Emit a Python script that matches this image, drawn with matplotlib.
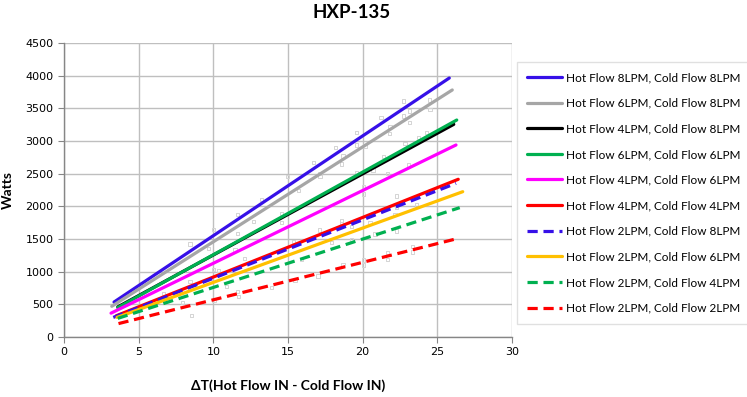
import matplotlib
matplotlib.use('Agg')
import matplotlib.pyplot as plt

# ===================== 数据 =====================
series_labels = [
    'Hot Flow 8LPM, Cold Flow 8LPM',
    'Hot Flow 6LPM, Cold Flow 8LPM',
    'Hot Flow 4LPM, Cold Flow 8LPM',
    'Hot Flow 6LPM, Cold Flow 6LPM',
    'Hot Flow 4LPM, Cold Flow 6LPM',
    'Hot Flow 4LPM, Cold Flow 4LPM',
    'Hot Flow 2LPM, Cold Flow 8LPM',
    'Hot Flow 2LPM, Cold Flow 6LPM',
    'Hot Flow 2LPM, Cold Flow 4LPM',
    'Hot Flow 2LPM, Cold Flow 2LPM',
]
# 趋势线起点/终点 (ΔT, Watts)
dt_start = [3.35, 3.2, 3.6, 3.6, 3.15, 3.5, 3.3, 3.55, 3.6, 3.65]
dt_end = [25.8, 26.0, 26.1, 26.3, 26.25, 26.4, 26.25, 26.7, 26.5, 26.4]
w_start = [535, 470, 460, 450, 365, 325, 300, 300, 285, 205]
w_end = [3964, 3781, 3255, 3321, 2939, 2414, 2352, 2224, 1980, 1510]

# 测量点（浅灰色）
sample_dt = [22.73, 21.23, 19.6, 18.17, 16.7, 14.96, 13.24, 22.73, 24.47, 24.5,
             23.13, 23.13, 21.83, 21.79, 20.16, 19.6, 18.67, 18.6, 17.15, 17.15,
             15.7, 14.58, 14.58, 21.39, 22.84, 23.73, 24.29, 20.68, 21.66, 23.06,
             22.28, 22.28, 23.62, 22.17, 22.28, 20.83, 20.5, 20.05, 20.05, 19.6,
             18.6, 18.6, 19.27, 19.27, 21.66, 21.66, 23.33, 23.33, 20.05, 20.05,
             18.67, 17.0, 15.47, 13.9, 15.9, 15.36, 17.1, 17.93,
             8.44, 10.0, 11.6, 11.6, 12.08, 9.67, 10.0, 10.34, 8.44, 6.65,
             7.95, 8.55, 10.05, 11.6, 11.67, 10.9, 12.68, 11.45]
sample_w = [3612, 3362, 3133, 2903, 2673, 2454, 2107, 3383, 3628, 3485,
            3459, 3281, 3220, 3117, 2923, 2939, 2771, 2648, 2505, 2454,
            2240, 1893, 1750, 2760, 2964, 3056, 3133, 2556, 2505, 2633,
            2158, 1980, 2020, 1878, 1623, 1577, 1750, 2189, 2301, 2515,
            1781, 1740, 1689, 1485, 1291, 1189, 1383, 1302, 1179, 1102,
            1112, 934, 862, 760, 1189, 1460, 1638, 1444,
            1423, 1648, 1878, 1587, 1204, 1357, 1036, 1015, 847, 669,
            525, 326, 556, 694, 617, 770, 1770, 1332]

x_ticks = [0, 5, 10, 15, 20, 25, 30]
y_ticks = [0, 500, 1000, 1500, 2000, 2500, 3000, 3500, 4000, 4500]
# ===============================================

colors = ['#3610e8', '#a6a6a6', '#000000', '#00b050', '#ff00ff',
          '#ff0000', '#3610e8', '#ffc000', '#00b050', '#ff0000']
styles = ['-', '-', '-', '-', '-', '-', '--', '-', '--', '--']

fig = plt.figure(figsize=(7.47, 3.97), dpi=100)
ax = fig.add_axes([64 / 747, 1 - 337 / 397, (512 - 64) / 747, (337 - 43) / 397])

ax.scatter(sample_dt, sample_w, marker='s', s=6, facecolors='none',
           edgecolors='#d4d4d4', linewidths=0.7, zorder=2)

handles = []
for i in range(len(series_labels)):
    ln, = ax.plot([dt_start[i], dt_end[i]], [w_start[i], w_end[i]],
                  color=colors[i], linestyle=styles[i], linewidth=2.3,
                  solid_capstyle='round', zorder=3, label=series_labels[i])
    if styles[i] == '--':
        ln.set_dashes((3.2, 1.8))
    handles.append(ln)

ax.set_xlim(0, 30)
ax.set_ylim(0, 4500)
ax.set_xticks(x_ticks)
ax.set_yticks(y_ticks)
ax.grid(True, color='#bfbfbf', linewidth=1.0)
ax.set_axisbelow(True)
for s in ['top', 'right']:
    ax.spines[s].set_visible(False)
for s in ['left', 'bottom']:
    ax.spines[s].set_color('#868686')
    ax.spines[s].set_linewidth(1.0)
ax.tick_params(direction='out', length=4, color='#868686', labelsize=8,
               labelcolor='#000000')
for lab in ax.get_xticklabels() + ax.get_yticklabels():
    lab.set_family('DejaVu Sans')

ax.set_xlabel('ΔT(Hot Flow IN - Cold Flow IN)', fontsize=10, fontweight='bold',
              family=['Lato', 'DejaVu Sans'], labelpad=16)
ax.set_ylabel('Watts', fontsize=10, fontweight='bold',
              family=['Lato', 'DejaVu Sans'], labelpad=8)

fig.text(352 / 747, 1 - 13 / 397, 'HXP-135', ha='center', va='center',
         fontsize=13.5, fontweight='bold', family=['Lato', 'DejaVu Sans'])

leg = fig.legend(handles=handles, loc='upper left',
                 bbox_to_anchor=(517 / 747, 1 - 62 / 397),
                 fancybox=False, edgecolor='#d9d9d9',
                 prop={'family': 'Lato', 'size': 8.5}, handlelength=3.0,
                 handletextpad=0.3, labelspacing=1.24, borderpad=0.85,
                 borderaxespad=0)
leg.get_frame().set_linewidth(1.0)

fig.savefig('out.png', dpi=100)
